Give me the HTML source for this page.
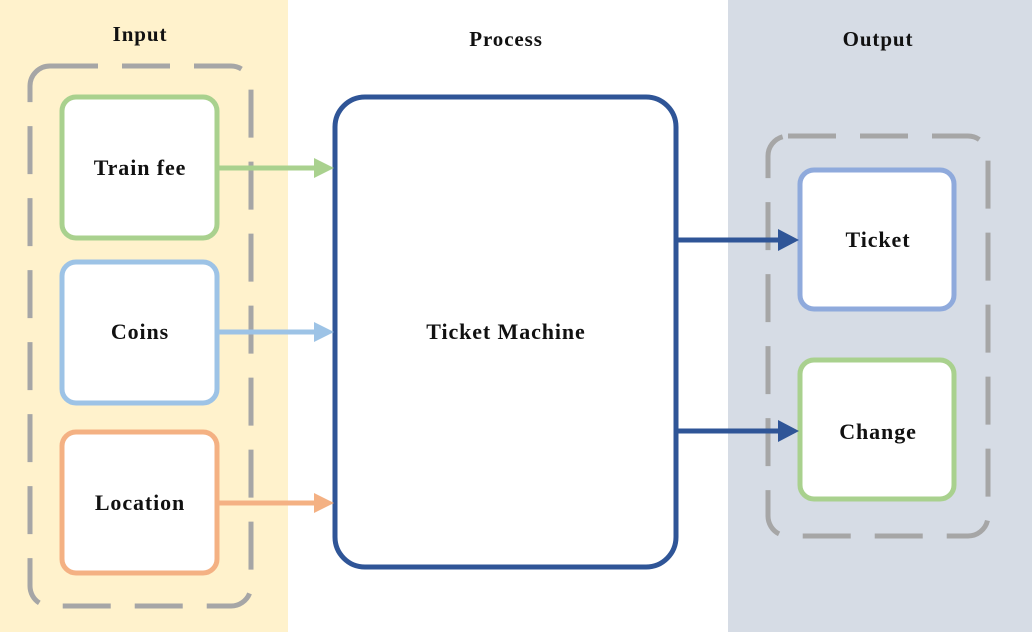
<!DOCTYPE html>
<html><head><meta charset="utf-8"><style>
html,body{margin:0;padding:0;width:1032px;height:632px;overflow:hidden;background:#fff}
svg text{font-family:"Liberation Serif",serif;font-weight:bold;fill:#111;letter-spacing:0.9px}
</style></head><body>
<svg width="1032" height="632" viewBox="0 0 1032 632" xmlns="http://www.w3.org/2000/svg">
<rect x="0" y="0" width="288" height="632" fill="#fff2cc"/>
<rect x="288" y="0" width="440" height="632" fill="#ffffff"/>
<rect x="728" y="0" width="304" height="632" fill="#d6dce5"/>

<text x="140" y="41" font-size="21" text-anchor="middle">Input</text>
<text x="506" y="46" font-size="21" text-anchor="middle">Process</text>
<text x="878" y="46" font-size="21" text-anchor="middle">Output</text>

<rect x="30" y="66" width="221" height="540" rx="20" fill="none" stroke="#a6a6a6" stroke-width="5" stroke-dasharray="48,24"/>
<rect x="768" y="136" width="220" height="400" rx="20" fill="none" stroke="#a6a6a6" stroke-width="5" stroke-dasharray="48,24"/>

<rect x="62" y="97" width="155" height="141" rx="14" fill="#fff" stroke="#a9d18e" stroke-width="5"/>
<rect x="62" y="262" width="155" height="141" rx="14" fill="#fff" stroke="#9dc3e6" stroke-width="5"/>
<rect x="62" y="432" width="155" height="141" rx="14" fill="#fff" stroke="#f4b183" stroke-width="5"/>
<text x="140" y="175" font-size="22" text-anchor="middle">Train fee</text>
<text x="140" y="339" font-size="22" text-anchor="middle">Coins</text>
<text x="140" y="510" font-size="22" text-anchor="middle">Location</text>

<rect x="335" y="97" width="341" height="470" rx="30" fill="#fff" stroke="#2f5597" stroke-width="5"/>
<text x="506" y="339" font-size="22" text-anchor="middle">Ticket Machine</text>

<rect x="800" y="170" width="154" height="139" rx="14" fill="#fff" stroke="#8faadc" stroke-width="5"/>
<rect x="800" y="360" width="154" height="139" rx="14" fill="#fff" stroke="#a9d18e" stroke-width="5"/>
<text x="878" y="247" font-size="22" text-anchor="middle">Ticket</text>
<text x="878" y="439" font-size="22" text-anchor="middle">Change</text>

<line x1="219" y1="168" x2="316" y2="168" stroke="#a9d18e" stroke-width="5"/>
<polygon points="314,158 334,168 314,178" fill="#a9d18e"/>
<line x1="219" y1="332" x2="316" y2="332" stroke="#9dc3e6" stroke-width="5"/>
<polygon points="314,322 334,332 314,342" fill="#9dc3e6"/>
<line x1="219" y1="503" x2="316" y2="503" stroke="#f4b183" stroke-width="5"/>
<polygon points="314,493 334,503 314,513" fill="#f4b183"/>

<line x1="677" y1="240" x2="780" y2="240" stroke="#2f5597" stroke-width="5"/>
<polygon points="778,229 799,240 778,251" fill="#2f5597"/>
<line x1="677" y1="431" x2="780" y2="431" stroke="#2f5597" stroke-width="5"/>
<polygon points="778,420 799,431 778,442" fill="#2f5597"/>
</svg>
</body></html>
